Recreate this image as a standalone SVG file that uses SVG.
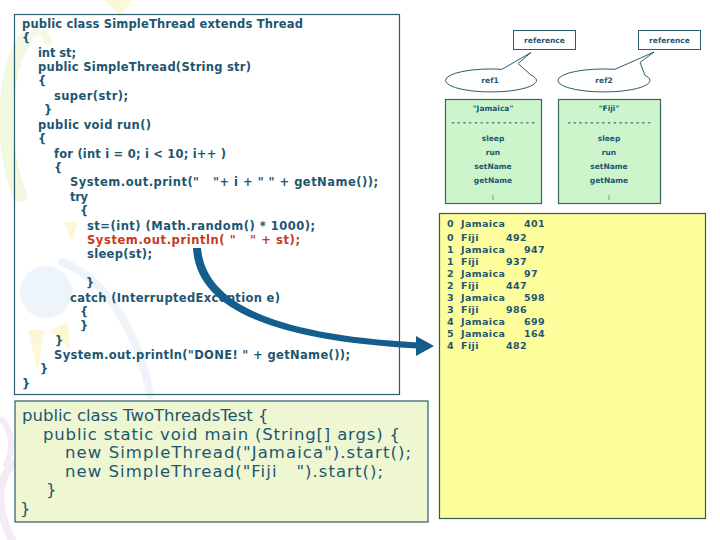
<svg xmlns="http://www.w3.org/2000/svg" width="720" height="540" viewBox="0 0 720 540">
<style>
text{white-space:pre;}
.code{font-family:"DejaVu Sans",Verdana,sans-serif;font-size:11.5px;font-weight:bold;fill:#1d5670;}
.red{fill:#c63a1c;}
.big{font-family:"DejaVu Sans",Tahoma,sans-serif;font-size:16.5px;fill:#1d5670;}
.sm{font-family:"DejaVu Sans",Verdana,sans-serif;font-size:7.5px;font-weight:bold;fill:#1d5670;text-anchor:middle;}
.out{font-family:"DejaVu Sans",Verdana,sans-serif;font-size:9.5px;font-weight:bold;fill:#1d5670;letter-spacing:0.4px;}
.box{stroke:#2b5e6c;stroke-width:1.2;}
.deco{fill:none;stroke-linecap:round;}
</style>
<rect width="720" height="540" fill="#ffffff"/>
<g id="background" opacity="0.5">
  <path class="deco" d="M20,195 C0,150 2,70 25,40" stroke="#e6f1c0" stroke-width="14"/>
  <path class="deco" d="M25,40 C35,28 45,30 48,42" stroke="#eef5cf" stroke-width="8"/>
  <path d="M105,0 L132,0 L120,16 Z" fill="#fbf2b0"/>
  <circle cx="46" cy="292" r="26" fill="#dceaf6"/>
  <path class="deco" d="M62,262 C110,280 140,340 150,395" stroke="#dfeaf6" stroke-width="8"/>
  <path d="M28,330 L44,330 L38,372 Z" fill="#fbf2b0"/>
  <path d="M64,222 L78,222 L72,242 Z" fill="#fbf2b0"/>
  <path d="M50,330 L68,322 L70,350 Z" fill="#fbf2b0"/>
  <path d="M15,415 L28,412 L24,438 Z" fill="#fbf2b0"/>
  <path class="deco" d="M12,540 C-8,500 0,470 20,460" stroke="#ecd8f0" stroke-width="8"/>
  <path class="deco" d="M2,420 C12,430 14,450 6,465" stroke="#ecd8f0" stroke-width="6"/>
</g>
<g id="code-simplethread">
  <rect class="box" x="14.5" y="14.5" width="385" height="380" fill="none"/>
  <g class="code">
    <text x="22" y="28" textLength="281" lengthAdjust="spacing">public class SimpleThread extends Thread</text>
    <text x="22" y="42">{</text>
    <text x="38" y="57" textLength="38" lengthAdjust="spacing">int st;</text>
    <text x="38" y="71" textLength="213" lengthAdjust="spacing">public SimpleThread(String str)</text>
    <text x="38" y="85">{</text>
    <text x="54" y="100" textLength="74" lengthAdjust="spacing">super(str);</text>
    <text x="44" y="114">}</text>
    <text x="38" y="129" textLength="113" lengthAdjust="spacing">public void run()</text>
    <text x="38" y="143">{</text>
    <text x="54" y="158" textLength="172" lengthAdjust="spacing">for (int i = 0; i &lt; 10; i++ )</text>
    <text x="54" y="172">{</text>
    <text x="70" y="186" textLength="308" lengthAdjust="spacing">System.out.print("   "+ i + " " + getName());</text>
    <text x="70" y="201" textLength="18" lengthAdjust="spacing">try</text>
    <text x="80" y="215">{</text>
    <text x="87" y="230" textLength="228" lengthAdjust="spacing">st=(int) (Math.random() * 1000);</text>
    <text class="red" x="87" y="244" textLength="213" lengthAdjust="spacing">System.out.println( "   " + st);</text>
    <text x="87" y="258" textLength="65" lengthAdjust="spacing">sleep(st);</text>
    <text x="86" y="287">}</text>
    <text x="70" y="302" textLength="210" lengthAdjust="spacing">catch (InterruptedException e)</text>
    <text x="80" y="316">{</text>
    <text x="80" y="330">}</text>
    <text x="55" y="345">}</text>
    <text x="54" y="359" textLength="296" lengthAdjust="spacing">System.out.println("DONE! " + getName());</text>
    <text x="40" y="373">}</text>
    <text x="22" y="388">}</text>
  </g>
</g>
<g id="code-twothreadstest">
  <rect class="box" x="15" y="401" width="413" height="121" fill="#eef6d2"/>
  <g class="big">
    <text x="22" y="421">public class TwoThreadsTest {</text>
    <text x="43" y="439.5" textLength="357" lengthAdjust="spacing">public static void main (String[] args) {</text>
    <text x="65" y="458" textLength="346" lengthAdjust="spacing">new SimpleThread("Jamaica").start();</text>
    <text x="65" y="476.5" textLength="318" lengthAdjust="spacing">new SimpleThread("Fiji   ").start();</text>
    <text x="46" y="495">}</text>
    <text x="20" y="513.5">}</text>
  </g>
</g>
<g id="reference1">
  <rect x="513.5" y="30.5" width="62" height="19" fill="#ffffff" stroke="#2b5e6c" stroke-width="1"/>
  <text class="sm" x="544.5" y="42.5">reference</text>
</g>
<g id="reference2">
  <rect x="638.5" y="30.5" width="62" height="19" fill="#ffffff" stroke="#2b5e6c" stroke-width="1"/>
  <text class="sm" x="669.5" y="42.5">reference</text>
</g>
<g id="ref1">
  <path d="M502,69.3 L531,52.5 L518,63.5 L531,75 A45.5,11.5 0 1 1 502,69.3 Z" fill="#ffffff" stroke="#2b5e6c" stroke-width="1"/>
  <text class="sm" x="490" y="83">ref1</text>
</g>
<g id="ref2">
  <path d="M615,69.3 L654,52 L640,62.5 L645,75.3 A46,11.5 0 1 1 615,69.3 Z" fill="#ffffff" stroke="#2b5e6c" stroke-width="1"/>
  <text class="sm" x="604" y="83">ref2</text>
</g>
<g id="object-jamaica">
  <rect x="445.5" y="99.5" width="96" height="104" fill="#ccf5cc" stroke="#2f6a5c" stroke-width="1.2"/>
  <text class="sm" x="493" y="110.5">"Jamaica"</text>
  <text class="sm" x="493" y="125">- - - - - - - - - - - - - - -</text>
  <text class="sm" x="493" y="140.5">sleep</text>
  <text class="sm" x="493" y="155">run</text>
  <text class="sm" x="493" y="169">setName</text>
  <text class="sm" x="493" y="183">getName</text>
  <text class="sm" x="493" y="199" style="font-size:5px">|</text>
</g>
<g id="object-fiji">
  <rect x="558.5" y="99.5" width="102" height="104" fill="#ccf5cc" stroke="#2f6a5c" stroke-width="1.2"/>
  <text class="sm" x="609" y="110.5">"Fiji"</text>
  <text class="sm" x="609" y="125">- - - - - - - - - - - - - - -</text>
  <text class="sm" x="609" y="140.5">sleep</text>
  <text class="sm" x="609" y="155">run</text>
  <text class="sm" x="609" y="169">setName</text>
  <text class="sm" x="609" y="183">getName</text>
  <text class="sm" x="609" y="199" style="font-size:5px">|</text>
</g>
<g id="output">
  <rect x="439.5" y="213.5" width="266" height="305" fill="#fdfd9c" stroke="#2f5e4c" stroke-width="1.2"/>
  <g class="out">
    <text x="447" y="227">0</text><text x="461" y="227">Jamaica</text><text x="524" y="227">401</text>
    <text x="447" y="241">0</text><text x="461" y="241">Fiji</text><text x="506" y="241">492</text>
    <text x="447" y="253">1</text><text x="461" y="253">Jamaica</text><text x="524" y="253">947</text>
    <text x="447" y="265">1</text><text x="461" y="265">Fiji</text><text x="506" y="265">937</text>
    <text x="447" y="277">2</text><text x="461" y="277">Jamaica</text><text x="524" y="277">97</text>
    <text x="447" y="289">2</text><text x="461" y="289">Fiji</text><text x="506" y="289">447</text>
    <text x="447" y="301">3</text><text x="461" y="301">Jamaica</text><text x="524" y="301">598</text>
    <text x="447" y="313">3</text><text x="461" y="313">Fiji</text><text x="506" y="313">986</text>
    <text x="447" y="325">4</text><text x="461" y="325">Jamaica</text><text x="524" y="325">699</text>
    <text x="447" y="337">5</text><text x="461" y="337">Jamaica</text><text x="524" y="337">164</text>
    <text x="447" y="349">4</text><text x="461" y="349">Fiji</text><text x="506" y="349">482</text>
  </g>
</g>
<g id="connectors">
  <path d="M193,248 C196,303 258,340 418,348.5 L418,342.5 C262,334 205,298 201,248 Z" fill="#145d8c"/>
  <polygon points="416,336 434,346 416,356" fill="#145d8c"/>
</g>
</svg>
